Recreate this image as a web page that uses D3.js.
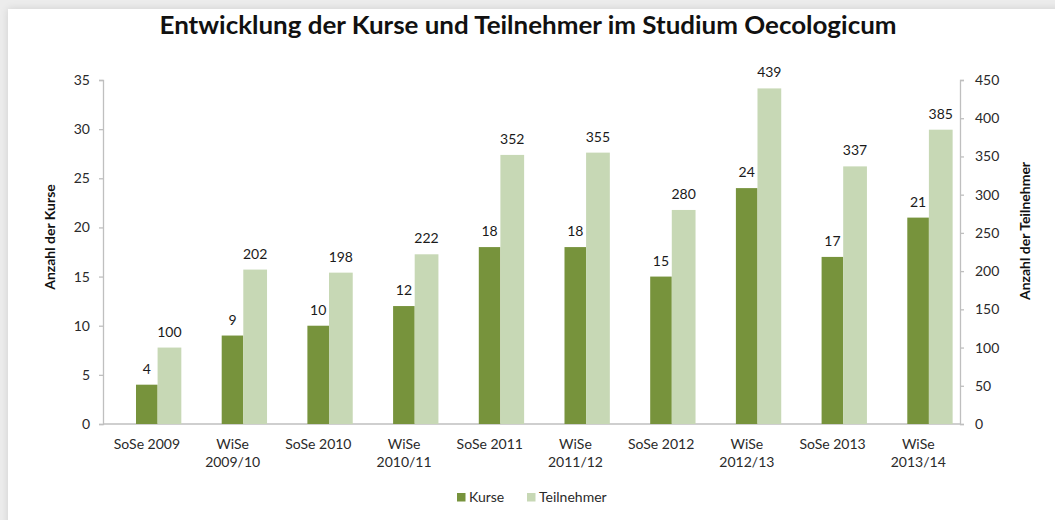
<!DOCTYPE html>
<html><head><meta charset="utf-8">
<script src="https://cdn.jsdelivr.net/npm/d3@7"></script>
<style>
html,body{margin:0;padding:0;background:#ececec;}
body{width:1055px;height:520px;overflow:hidden;position:relative;}
#card{position:absolute;left:8px;top:9px;width:1060px;height:530px;background:#fff;box-shadow:0 0 8px rgba(0,0,0,0.12);}
svg{position:absolute;left:0;top:0;}
text{font-family:Lato,"Open Sans",sans-serif;}
</style></head>
<body><div id="card"></div><svg id="chart" width="1055" height="520"></svg>
<script>
const categories = [["SoSe 2009"],["WiSe","2009/10"],["SoSe 2010"],["WiSe","2010/11"],["SoSe 2011"],["WiSe","2011/12"],["SoSe 2012"],["WiSe","2012/13"],["SoSe 2013"],["WiSe","2013/14"]];
const kurse = [4,9,10,12,18,18,15,24,17,21];
const teilnehmer = [100,202,198,222,352,355,280,439,337,385];
const leftTicks = [0,5,10,15,20,25,30,35];
const rightTicks = [0,50,100,150,200,250,300,350,400,450];
const seriesNames = ["Kurse","Teilnehmer"];
const colors = ["#77933c","#c7d8b5"];

const svg = d3.select("#chart");
const L = 103, R = 960, T = 80, B = 424;
const keys = categories.map(c => c.join(" "));
const x = d3.scaleBand().domain(keys).range([L, R]);
const yL = d3.scaleLinear().domain([0,35]).range([B, T]);
const yR = d3.scaleLinear().domain([0,450]).range([B, T]);
const bw = x.bandwidth();
const axisColor = "#bfbfbf", textColor = "#2a2a2a";

// title
svg.append("text").attr("x",528).attr("y",34).attr("text-anchor","middle")
  .attr("font-size",25).attr("font-weight",700).attr("fill","#111")
  .attr("textLength",737).attr("lengthAdjust","spacingAndGlyphs")
  .text("Entwicklung der Kurse und Teilnehmer im Studium Oecologicum");

// axes
const gl = svg.append("g").attr("transform",`translate(${L},0)`)
  .call(d3.axisLeft(yL).tickValues(leftTicks).tickSize(4).tickPadding(9));
const gr = svg.append("g").attr("transform",`translate(${R},0)`)
  .call(d3.axisRight(yR).tickValues(rightTicks).tickSize(4).tickPadding(11));
[gl,gr].forEach(g=>{
  g.select(".domain").attr("stroke",axisColor).attr("stroke-width",1.3);
  g.selectAll(".tick line").attr("stroke",axisColor).attr("stroke-width",1.3);
  g.selectAll(".tick text").attr("font-family","Lato,'Open Sans',sans-serif").attr("font-size",14).attr("fill",textColor);
});
svg.append("line").attr("x1",L).attr("x2",R).attr("y1",B).attr("y2",B).attr("stroke",axisColor).attr("stroke-width",1.3);

// bars
const data = keys.map((k,i)=>({k,i,kv:kurse[i],tv:teilnehmer[i]}));
svg.selectAll("rect.k").data(data).join("rect").attr("class","k")
  .attr("x",d=>x(d.k)+0.385*bw).attr("width",0.252*bw)
  .attr("y",d=>yL(d.kv)).attr("height",d=>B-yL(d.kv)).attr("fill",colors[0]);
svg.selectAll("rect.t").data(data).join("rect").attr("class","t")
  .attr("x",d=>x(d.k)+0.637*bw).attr("width",0.277*bw)
  .attr("y",d=>yR(d.tv)).attr("height",d=>B-yR(d.tv)).attr("fill",colors[1]);

// value labels
svg.selectAll("text.kl").data(data).join("text").attr("class","kl")
  .attr("x",d=>x(d.k)+0.511*bw).attr("y",d=>yL(d.kv)-11).attr("text-anchor","middle")
  .attr("font-size",14).attr("fill","#1a1a1a").text(d=>d.kv);
svg.selectAll("text.tl").data(data).join("text").attr("class","tl")
  .attr("x",d=>x(d.k)+0.775*bw).attr("y",d=>yR(d.tv)-11).attr("text-anchor","middle")
  .attr("font-size",14).attr("fill","#1a1a1a").text(d=>d.tv);

// category labels
categories.forEach((c,i)=>{
  const cx = x(keys[i])+0.513*bw;
  const t = svg.append("text").attr("x",cx).attr("y",449)
    .attr("text-anchor","middle").attr("font-size",14).attr("fill",textColor);
  c.forEach((line,j)=>t.append("tspan").attr("x",cx).attr("dy",j?18:0).text(line));
});

// axis titles
svg.append("text").attr("transform","translate(55,237) rotate(-90)").attr("text-anchor","middle")
  .attr("font-size",14).attr("font-weight",700).attr("fill","#111").text("Anzahl der Kurse");
svg.append("text").attr("transform","translate(1030,231) rotate(-90)").attr("text-anchor","middle")
  .attr("font-size",14).attr("font-weight",700).attr("fill","#111").text("Anzahl der Teilnehmer");

// legend
const lg = svg.append("g");
const legX = [457, 527];
seriesNames.forEach((n,i)=>{
  lg.append("rect").attr("x",legX[i]).attr("y",493).attr("width",8.5).attr("height",8.5).attr("fill",colors[i]);
  lg.append("text").attr("x",legX[i]+12).attr("y",502).attr("font-size",14).attr("fill",textColor).text(n);
});
</script></body></html>
